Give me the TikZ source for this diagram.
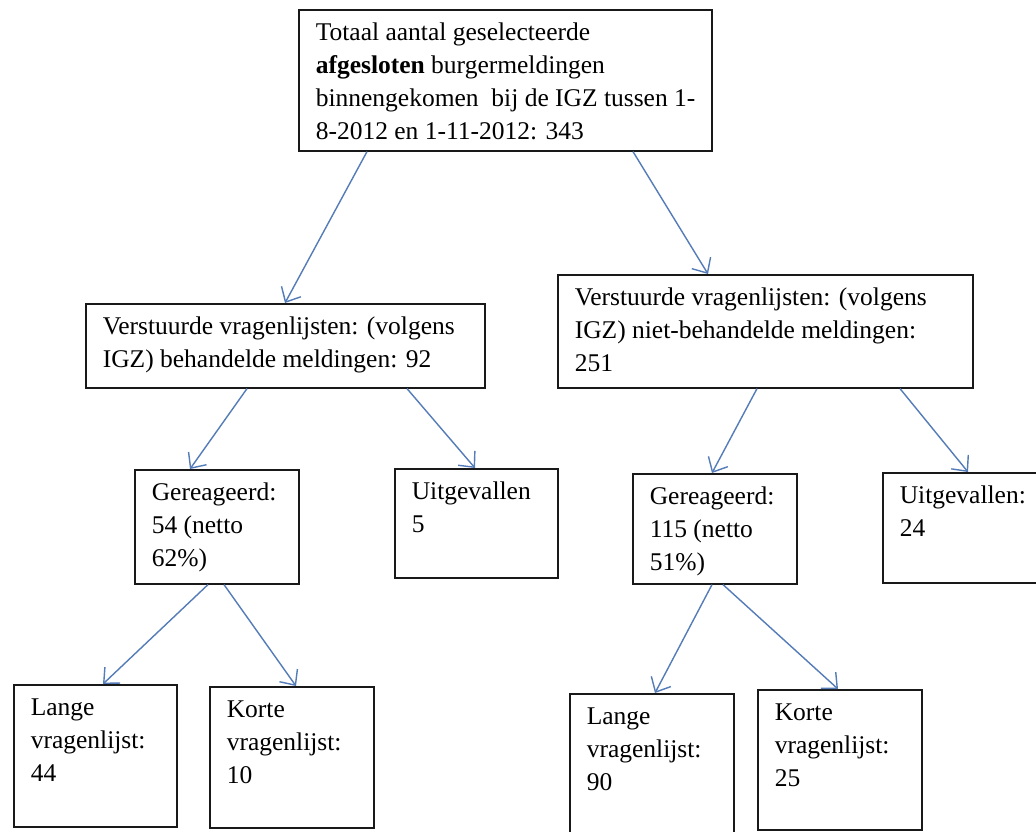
\documentclass[tikz,border=0pt]{standalone}
\usepackage{fontspec}
\setmainfont{Liberation Serif}
\usetikzlibrary{arrows.meta,calc}
\definecolor{arrowblue}{RGB}{84,124,184}
\definecolor{boxline}{RGB}{25,25,25}
\newcommand\boxtxt[3]{\parbox[t][#2pt][t]{#1pt}{\vspace*{8pt}\leftskip=17pt\relax\noindent\strut #3}}
\tikzset{
  flowbox/.style={draw=boxline, line width=1.6pt, inner sep=0pt, anchor=north west, rectangle,
    font=\fontsize{25.5pt}{33pt}\selectfont},
  arr/.style={draw=arrowblue, line width=1.4pt, -{Straight Barb[length=12pt,width=22pt,line width=1.4pt]}}
}
\begin{document}
\begin{tikzpicture}[x=1pt,y=-1pt]
\fill[white] (0,0) rectangle (1036,831);
\useasboundingbox (0,0) rectangle (1036,831);

\node[flowbox] (top) at (298,9) {\boxtxt{413}{141}{Totaal aantal geselecteerde\\ \textbf{afgesloten} burgermeldingen\\ binnengekomen\ \ bij de IGZ tussen 1-\\ 8-2012 en 1-11-2012: 343}};

\node[flowbox] (lmid) at (85,303) {\boxtxt{399}{84}{Verstuurde vragenlijsten: (volgens\\ IGZ) behandelde meldingen: 92}};
\node[flowbox] (rmid) at (557,274) {\boxtxt{415}{113}{Verstuurde vragenlijsten: (volgens\\ IGZ) niet-behandelde meldingen:\\ 251}};

\node[flowbox] (gl) at (134,469) {\boxtxt{164}{114}{Gereageerd:\\ 54 (netto\\ 62\%)}};
\node[flowbox] (ul) at (394,468) {\boxtxt{163}{109}{Uitgevallen\\ 5}};
\node[flowbox] (gr) at (632,473) {\boxtxt{164}{110}{Gereageerd:\\ 115 (netto\\ 51\%)}};
\node[flowbox] (ur) at (882,472) {\boxtxt{178}{110}{Uitgevallen:\\ 24}};

\node[flowbox] (ll) at (13,684) {\boxtxt{163}{142}{Lange\\ vragenlijst:\\ 44}};
\node[flowbox] (kl) at (209,686) {\boxtxt{164}{141}{Korte\\ vragenlijst:\\ 10}};
\node[flowbox] (lr) at (569,693) {\boxtxt{164}{152}{Lange\\ vragenlijst:\\ 90}};
\node[flowbox] (kr) at (757,689) {\boxtxt{164}{140}{Korte\\ vragenlijst:\\ 25}};

\draw[arr] ($(top.south west)+(69,0)$) -- ($(lmid.north west)+(200,0)$);
\draw[arr] ($(top.south west)+(335,0)$) -- ($(rmid.north west)+(151,0)$);

\draw[arr] ($(lmid.south west)+(162,0)$) -- ($(gl.north west)+(56,0)$);
\draw[arr] ($(lmid.south west)+(322,0)$) -- ($(ul.north west)+(81,0)$);

\draw[arr] ($(rmid.south west)+(200,0)$) -- ($(gr.north west)+(80,0)$);
\draw[arr] ($(rmid.south west)+(343,0)$) -- ($(ur.north west)+(86,0)$);

\draw[arr] ($(gl.south west)+(74,0)$) -- ($(ll.north west)+(90,0)$);
\draw[arr] ($(gl.south west)+(90,0)$) -- ($(kl.north west)+(87,0)$);

\draw[arr] ($(gr.south west)+(80,0)$) -- ($(lr.north west)+(86,0)$);
\draw[arr] ($(gr.south west)+(91,0)$) -- ($(kr.north west)+(81,0)$);
\end{tikzpicture}
\end{document}
